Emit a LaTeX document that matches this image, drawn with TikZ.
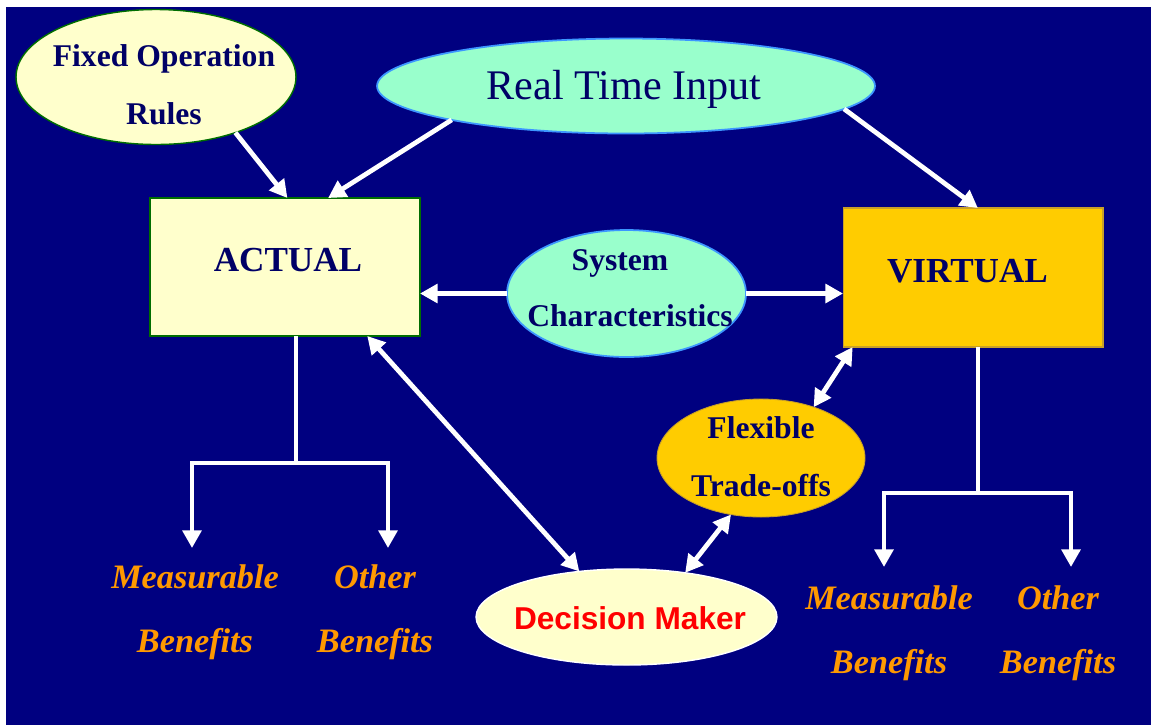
\documentclass[tikz,border=0pt]{standalone}
\usepackage{fontspec}
\setmainfont{Liberation Serif}
\newfontfamily\arialfont{Liberation Sans}
\usetikzlibrary{arrows.meta,shapes.geometric}
\definecolor{navy}{RGB}{0,0,128}
\definecolor{ink}{RGB}{0,0,102}
\definecolor{cream}{RGB}{255,255,204}
\definecolor{mint}{RGB}{153,255,204}
\definecolor{gold}{RGB}{255,204,0}
\definecolor{amber}{RGB}{255,153,0}
\definecolor{leaf}{RGB}{0,110,0}
\definecolor{sky}{RGB}{60,150,255}
\definecolor{ochre}{RGB}{200,160,40}
\tikzset{
	oval/.style={ellipse, inner sep=0pt, outer sep=0pt},
	panel/.style={rectangle, inner sep=0pt, outer sep=0pt},
	head/.style={text=ink, anchor=base, align=center, font=\fontsize{18pt}{32.5pt}\selectfont\bfseries},
	gain/.style={text=amber, anchor=base, align=center, font=\fontsize{19.5pt}{36pt}\selectfont\bfseries\itshape},
	stem/.style={draw=white, line width=2.7pt},
	arr/.style={stem, -{Triangle[length=10pt,width=10.5pt]}},
	dbl/.style={stem, {Triangle[length=10pt,width=10.5pt]}-{Triangle[length=10pt,width=10.5pt]}}
}
\begin{document}
\begin{tikzpicture}[x=0.02cm, y=-0.02cm]
	\useasboundingbox (0,0) rectangle (1151,725);
	\fill[white] (0,0) rectangle (1151,725);
	\fill[navy] (6,7) rectangle (1151,725);

	% shapes
	\node[oval, fill=cream, draw=leaf, line width=0.8pt, minimum width=5.6cm, minimum height=2.7cm] (fixed) at (156,77) {};
	\node[oval, fill=mint, draw=sky, line width=1pt, minimum width=9.96cm, minimum height=1.9cm] (rti) at (626,86) {};
	\node[panel, fill=cream, draw=leaf, line width=0.8pt, minimum width=5.4cm, minimum height=2.76cm] (actual) at (285,267) {};
	\node[panel, fill=gold, draw=ochre, line width=0.6pt, minimum width=5.2cm, minimum height=2.78cm] (virtual) at (973,277.5) {};
	\node[oval, fill=mint, draw=sky, line width=1pt, minimum width=4.78cm, minimum height=2.54cm] (sys) at (626.5,293.5) {};
	\node[oval, fill=gold, draw=ochre, line width=0.5pt, minimum width=4.16cm, minimum height=2.36cm] (flex) at (761,458) {};
	\node[oval, fill=cream, draw=white, line width=0.8pt, minimum width=6.02cm, minimum height=1.92cm] (dm) at (626.5,617) {};

	% texts (base = last line)
	\node[head] (fixedtext) at (164,124) {Fixed Operation\\Rules};
	\node[anchor=base, text=ink, font=\fontsize{24pt}{28pt}\selectfont] (rtitext) at (624,99) {Real Time Input};
	\node[head, font=\fontsize{20pt}{24pt}\selectfont\bfseries] (actualtext) at (288,271) {ACTUAL};
	\node[head, font=\fontsize{20pt}{24pt}\selectfont\bfseries] (virtualtext) at (967.5,282) {VIRTUAL};
	\node[head] (systext) at (620,270) {System};
	\node[head] (systext2) at (630,326) {Characteristics};
	\node[head] (flextext) at (761,496) {Flexible\\Trade-offs};
	\node[anchor=base, text=red, font=\arialfont\fontsize{18pt}{22pt}\selectfont\bfseries] (dmtext) at (630,629) {Decision Maker};
	\node[gain] (ameas) at (195,652) {Measurable\\Benefits};
	\node[gain] (aother) at (375,652) {Other\\Benefits};
	\node[gain] (vmeas) at (889,673) {Measurable\\Benefits};
	\node[gain] (vother) at (1058,673) {Other\\Benefits};

	% inputs
	\draw[arr] (fixed.-35) -- (actual.88);
	\draw[arr] (rti.191) -- (actual.58);
	\draw[arr] (rti.-6) -- (virtual.86);
	\draw[arr] (sys.west) -- (sys.west -| actual.east);
	\draw[arr] (sys.east) -- (sys.east -| virtual.west);

	% trade-off loop
	\draw[dbl] (actual.-40) -- (dm.136);
	\draw[dbl] (virtual.-150) -- (flex.44);
	\draw[dbl] (flex.-118) -- (dm.37);

	% benefit forks
	\coordinate (afork) at (296,463);
	\coordinate (ameastip) at (192,548);
	\coordinate (aothertip) at (388,548);
	\draw[stem] (afork |- actual.south) -- (afork);
	\draw[arr] (afork) -| (ameastip);
	\draw[arr] (afork) -| (aothertip);

	\coordinate (vfork) at (978,493);
	\coordinate (vmeastip) at (884,567);
	\coordinate (vothertip) at (1071,567);
	\draw[stem] (vfork |- virtual.south) -- (vfork);
	\draw[arr] (vfork) -| (vmeastip);
	\draw[arr] (vfork) -| (vothertip);
\end{tikzpicture}
\end{document}
